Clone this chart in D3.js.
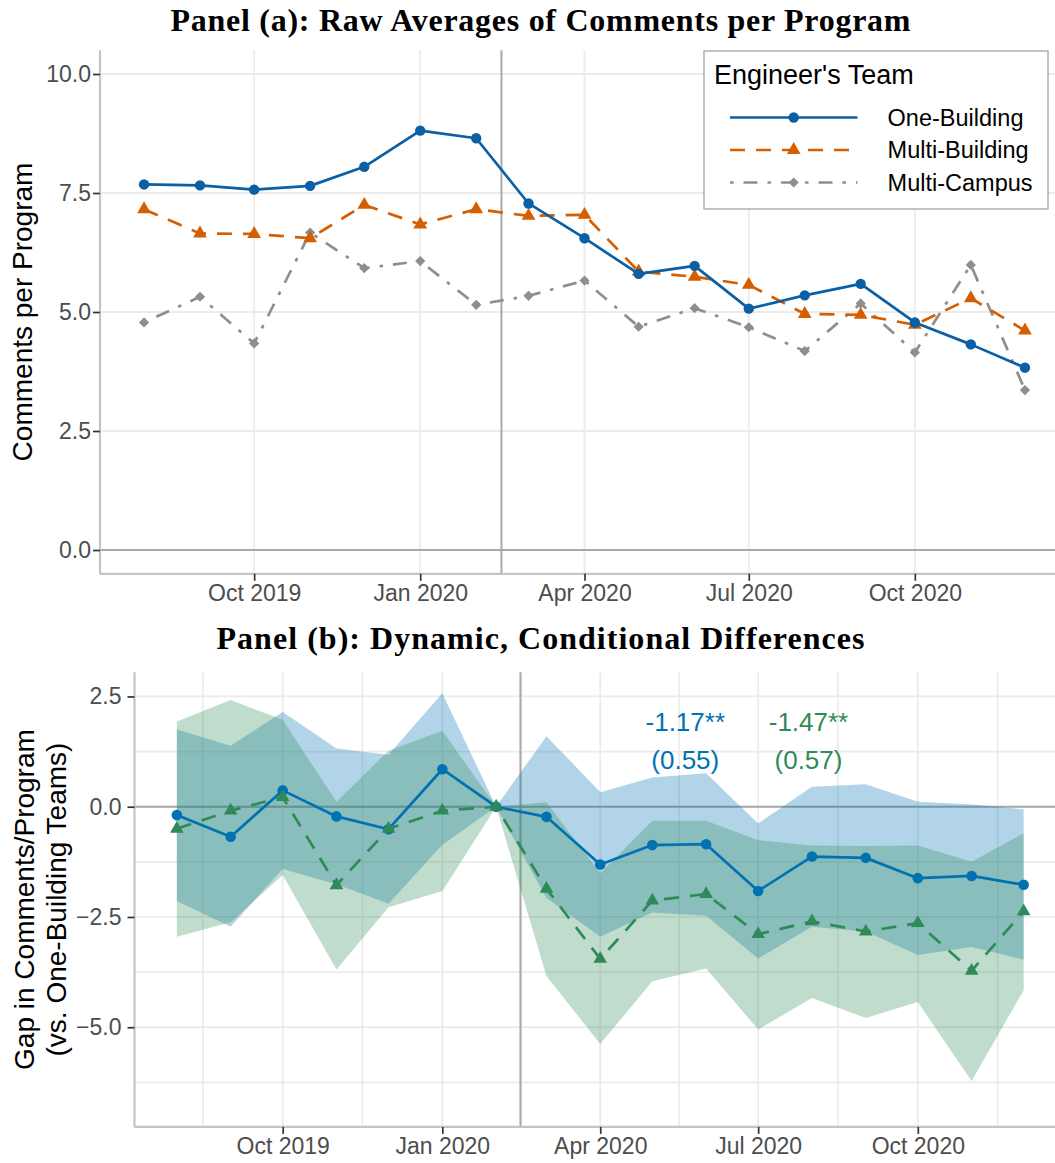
<!DOCTYPE html>
<html>
<head>
<meta charset="utf-8">
<script src="https://cdn.jsdelivr.net/npm/d3@7"></script>
<style>
  body { margin: 0; background: #fff; }
  svg { display: block; }
</style>
</head>
<body>
<svg id="chart" width="1055" height="1163"></svg>
<script>
// ---------- data ----------
const months = ["2019-08-01","2019-09-01","2019-10-01","2019-11-01","2019-12-01","2020-01-01",
                "2020-02-01","2020-03-01","2020-04-01","2020-05-01","2020-06-01","2020-07-01",
                "2020-08-01","2020-09-01","2020-10-01","2020-11-01","2020-12-01"];

// Panel (a): raw monthly averages of comments per program
const teams = ["One-Building", "Multi-Building", "Multi-Campus"];
const rawOneBuilding   = [7.68,7.66,7.57,7.65,8.05,8.81,8.65,7.28,6.55,5.80,5.97,5.07,5.35,5.59,4.78,4.32,3.83];
const rawMultiBuilding = [7.16,6.65,6.64,6.55,7.25,6.84,7.16,7.02,7.04,5.85,5.74,5.57,4.96,4.94,4.73,5.29,4.61];
const rawMultiCampus   = [4.78,5.32,4.34,6.67,5.92,6.07,5.15,5.34,5.66,4.69,5.08,4.68,4.18,5.18,4.15,5.99,3.36];

// Panel (b): event-study gaps vs. one-building teams with confidence bands
const gapMultiBuilding   = [-0.19,-0.68,0.37,-0.22,-0.51,0.85,0,-0.23,-1.31,-0.87,-0.85,-1.91,-1.13,-1.16,-1.62,-1.57,-1.77];
const gapMultiBuildingLo = [-2.14,-2.72,-1.41,-1.76,-2.20,-0.86,0,-2.07,-2.95,-2.40,-2.47,-3.44,-2.72,-2.83,-3.36,-3.18,-3.47];
const gapMultiBuildingHi = [1.75,1.38,2.15,1.32,1.18,2.57,0,1.60,0.33,0.66,0.76,-0.38,0.45,0.51,0.11,0.05,-0.06];
const gapMultiCampus     = [-0.50,-0.09,0.22,-1.78,-0.50,-0.09,0,-1.86,-3.45,-2.13,-1.98,-2.89,-2.60,-2.83,-2.64,-3.72,-2.37];
const gapMultiCampusLo   = [-2.95,-2.62,-1.55,-3.69,-2.28,-1.91,0,-3.84,-5.38,-3.96,-3.67,-5.05,-4.34,-4.79,-4.43,-6.22,-4.16];
const gapMultiCampusHi   = [1.93,2.42,1.97,0.11,1.27,1.72,0,0.10,-1.51,-0.32,-0.32,-0.76,-0.88,-0.89,-0.88,-1.25,-0.60];

// Pooled post-period estimates (standard errors)
const pooledEstimates = ["-1.17**", "-1.47**"];
const pooledSE        = ["(0.55)", "(0.57)"];

// Axis ticks
const xTickDates  = ["2019-10-01","2020-01-01","2020-04-01","2020-07-01","2020-10-01"];
const xTickLabels = ["Oct 2019","Jan 2020","Apr 2020","Jul 2020","Oct 2020"];
const yTicksA = [0, 2.5, 5, 7.5, 10];
const yTicksB = [-5, -2.5, 0, 2.5];
const eventDate = "2020-02-15";

// ---------- setup ----------
const parse = d3.utcParse("%Y-%m-%d");
const dates = months.map(parse);
const tickDates = xTickDates.map(parse);
const pad = 0.05 * (dates[dates.length - 1] - dates[0]);
const xDomain = [new Date(+dates[0] - pad), new Date(+dates[dates.length - 1] + pad)];

const svg = d3.select("#chart");
const SANS = "'Liberation Sans', Arial, Helvetica, sans-serif";
const SERIF = "'Liberation Serif', 'Times New Roman', serif";
const GRID = "#ebebeb", AXIS = "#c4c4c4", REF = "#a9a9a9", TICK = "#333333", TICKTXT = "#4d4d4d";
const DASHED = "15,11", DOTDASH = "3.5,10,14,10";

function symbolPath(shape, size) {
  if (shape === "circle") return d3.symbol().type(d3.symbolCircle).size(size)();
  if (shape === "triangle") return d3.symbol().type(d3.symbolTriangle).size(size)();
  return d3.symbol().type(d3.symbolSquare).size(size)();
}
function drawMarker(g, shape, x, y, color, size) {
  g.append("path")
    .attr("d", symbolPath(shape, size))
    .attr("transform", `translate(${x},${y})` + (shape === "diamond" ? " rotate(45)" : ""))
    .attr("fill", color);
}

function styleAxis(g) {
  g.select(".domain").remove();
  g.selectAll(".tick line").attr("stroke", TICK).attr("stroke-width", 1.7);
  g.selectAll(".tick text").attr("fill", TICKTXT).style("font-family", SANS).style("font-size", "23px");
}

function panel(opts) {
  const { x, y, yTicks, minorY, minorX, top, bottom, left, right } = opts;
  const g = svg.append("g");
  // grid
  const yMinor = minorY ? d3.pairs(yTicks).map(([a, b]) => (a + b) / 2)
      .concat([yTicks[0] - (yTicks[1] - yTicks[0]) / 2]) : [];
  const xMajor = tickDates;
  let xMinor = [];
  if (minorX) {
    const ext = [d3.utcMonth.offset(xMajor[0], -3)].concat(xMajor, [d3.utcMonth.offset(xMajor[xMajor.length - 1], 3)]);
    xMinor = d3.pairs(ext).map(([a, b]) => new Date((+a + +b) / 2));
  }
  g.selectAll(null).data(yMinor.filter(v => y(v) > top && y(v) < bottom)).join("line")
    .attr("x1", left).attr("x2", right).attr("y1", d => y(d)).attr("y2", d => y(d))
    .attr("stroke", GRID).attr("stroke-width", 1.6);
  g.selectAll(null).data(xMinor.filter(d => x(d) > left && x(d) < right)).join("line")
    .attr("y1", top).attr("y2", bottom).attr("x1", d => x(d)).attr("x2", d => x(d))
    .attr("stroke", GRID).attr("stroke-width", 1.6);
  g.selectAll(null).data(yTicks).join("line")
    .attr("x1", left).attr("x2", right).attr("y1", d => y(d)).attr("y2", d => y(d))
    .attr("stroke", GRID).attr("stroke-width", 1.8);
  g.selectAll(null).data(xMajor).join("line")
    .attr("y1", top).attr("y2", bottom).attr("x1", d => x(d)).attr("x2", d => x(d))
    .attr("stroke", GRID).attr("stroke-width", 1.8);
  // reference lines
  g.append("line").attr("x1", left).attr("x2", right).attr("y1", y(0)).attr("y2", y(0))
    .attr("stroke", REF).attr("stroke-width", 2);
  g.append("line").attr("x1", x(parse(eventDate))).attr("x2", x(parse(eventDate)))
    .attr("y1", top).attr("y2", bottom).attr("stroke", REF).attr("stroke-width", 2);
  // axis lines
  g.append("line").attr("x1", left).attr("x2", left).attr("y1", top).attr("y2", bottom)
    .attr("stroke", AXIS).attr("stroke-width", 2.2);
  g.append("line").attr("x1", left).attr("x2", right).attr("y1", bottom).attr("y2", bottom)
    .attr("stroke", AXIS).attr("stroke-width", 2.2);
  return g;
}

function axes(opts) {
  const { x, y, yTicks, bottom, left, yPad } = opts;
  const gx = svg.append("g").attr("transform", `translate(0,${bottom})`)
    .call(d3.axisBottom(x).tickValues(tickDates).tickFormat((d, i) => xTickLabels[i]).tickSize(7).tickPadding(4));
  styleAxis(gx);
  const gy = svg.append("g").attr("transform", `translate(${left},0)`)
    .call(d3.axisLeft(y).tickValues(yTicks).tickFormat(d3.format(".1f")).tickSize(7).tickPadding(yPad));
  styleAxis(gy);
}

// ---------- Panel (a) ----------
const A = { top: 50.2, bottom: 573.8, left: 100, right: 1069 };
const xA = d3.scaleUtc().domain(xDomain).range([A.left, A.right]);
const yA = d3.scaleLinear().domain([-0.5, 10.5]).range([A.bottom, A.top]);

panel({ x: xA, y: yA, yTicks: yTicksA, minorY: false, minorX: false, ...A });

const seriesA = [
  { name: "Multi-Campus",   values: rawMultiCampus,   color: "#8e8e8e", dash: DOTDASH, shape: "diamond",  size: 52 },
  { name: "Multi-Building", values: rawMultiBuilding, color: "#d55e00", dash: DASHED,  shape: "triangle", size: 82 },
  { name: "One-Building",   values: rawOneBuilding,   color: "#0b5fa5", dash: null,    shape: "circle",   size: 85 }
];
const lineA = d3.line().x((d, i) => xA(dates[i])).y(d => yA(d));
const gA = svg.append("g");
seriesA.forEach(s => {
  gA.append("path").datum(s.values).attr("d", lineA)
    .attr("fill", "none").attr("stroke", s.color).attr("stroke-width", 2.7)
    .attr("stroke-dasharray", s.dash).attr("stroke-linejoin", "round");
  s.values.forEach((v, i) => drawMarker(gA, s.shape, xA(dates[i]), yA(v), s.color, s.size));
});
axes({ x: xA, y: yA, yTicks: yTicksA, bottom: A.bottom, left: A.left, yPad: 2 });

// y title
svg.append("text").attr("transform", `translate(32,${(A.top + A.bottom) / 2}) rotate(-90)`)
  .attr("text-anchor", "middle").style("font-family", SANS).style("font-size", "28px")
  .text("Comments per Program");

// title
svg.append("text").attr("x", 540.5).attr("y", 31).attr("text-anchor", "middle")
  .attr("textLength", 740).attr("lengthAdjust", "spacing")
  .style("font-family", SERIF).style("font-weight", "bold").style("font-size", "32px")
  .text("Panel (a): Raw Averages of Comments per Program");

// legend
const leg = svg.append("g");
leg.append("rect").attr("x", 704).attr("y", 51).attr("width", 344).attr("height", 158)
  .attr("fill", "#fff").attr("stroke", "#a3a3a3").attr("stroke-width", 1.3);
leg.append("text").attr("x", 714).attr("y", 83.5).style("font-family", SANS).style("font-size", "27px")
  .text("Engineer's Team");
const legOrder = teams.map(t => seriesA.find(s => s.name === t));
legOrder.forEach((s, i) => {
  const cy = 117.5 + i * 32.5;
  leg.append("line").attr("x1", 730).attr("x2", 857.5).attr("y1", cy).attr("y2", cy)
    .attr("stroke", s.color).attr("stroke-width", 2.7).attr("stroke-dasharray", s.dash);
  drawMarker(leg, s.shape, 793.7, cy, s.color, s.size);
  leg.append("text").attr("x", 887.6).attr("y", cy).attr("dy", "0.35em")
    .style("font-family", SANS).style("font-size", "23.5px").text(s.name);
});

// ---------- Panel (b) ----------
const B = { top: 672.2, bottom: 1126.9, left: 134.5, right: 1066 };
const xB = d3.scaleUtc().domain(xDomain).range([B.left, B.right]);
const yB = d3.scaleLinear().domain([-7.26, 3.05]).range([B.bottom, B.top]);

panel({ x: xB, y: yB, yTicks: yTicksB, minorY: true, minorX: true, ...B });

const seriesB = [
  { values: gapMultiBuilding, lo: gapMultiBuildingLo, hi: gapMultiBuildingHi, color: "#0072b2", dash: null,   shape: "circle",   size: 88 },
  { values: gapMultiCampus,   lo: gapMultiCampusLo,   hi: gapMultiCampusHi,   color: "#2e8b57", dash: DASHED, shape: "triangle", size: 80 }
];
const gB = svg.append("g");
const area = d3.area().x((d, i) => xB(dates[i])).y0(d => yB(d[0])).y1(d => yB(d[1]));
seriesB.forEach(s => {
  gB.append("path").datum(s.lo.map((l, i) => [l, s.hi[i]])).attr("d", area)
    .attr("fill", s.color).attr("fill-opacity", 0.3);
});
const lineB = d3.line().x((d, i) => xB(dates[i])).y(d => yB(d));
seriesB.forEach(s => {
  gB.append("path").datum(s.values).attr("d", lineB)
    .attr("fill", "none").attr("stroke", s.color).attr("stroke-width", 2.7)
    .attr("stroke-dasharray", s.dash).attr("stroke-linejoin", "round");
  s.values.forEach((v, i) => drawMarker(gB, s.shape, xB(dates[i]), yB(v), s.color, s.size));
});
axes({ x: xB, y: yB, yTicks: yTicksB, bottom: B.bottom, left: B.left, yPad: 6 });

// pooled estimate labels
const annotAt = [parse("2020-05-20"), parse("2020-07-30")];
seriesB.forEach((s, i) => {
  svg.append("text").attr("x", xB(annotAt[i])).attr("y", yB(1.72)).attr("text-anchor", "middle")
    .attr("fill", s.color).style("font-family", SANS).style("font-size", "26px").text(pooledEstimates[i]);
  svg.append("text").attr("x", xB(annotAt[i])).attr("y", yB(0.85)).attr("text-anchor", "middle")
    .attr("fill", s.color).style("font-family", SANS).style("font-size", "26px").text(pooledSE[i]);
});

// y title (two lines)
const midB = (B.top + B.bottom) / 2;
svg.append("text").attr("transform", `translate(34,${midB}) rotate(-90)`)
  .attr("text-anchor", "middle").style("font-family", SANS).style("font-size", "28px")
  .text("Gap in Comments/Program");
svg.append("text").attr("transform", `translate(66,${midB}) rotate(-90)`)
  .attr("text-anchor", "middle").style("font-family", SANS).style("font-size", "28px")
  .text("(vs. One-Building Teams)");

// title
svg.append("text").attr("x", 540.5).attr("y", 649).attr("text-anchor", "middle")
  .attr("textLength", 648).attr("lengthAdjust", "spacing")
  .style("font-family", SERIF).style("font-weight", "bold").style("font-size", "32px")
  .text("Panel (b): Dynamic, Conditional Differences");
</script>
</body>
</html>
